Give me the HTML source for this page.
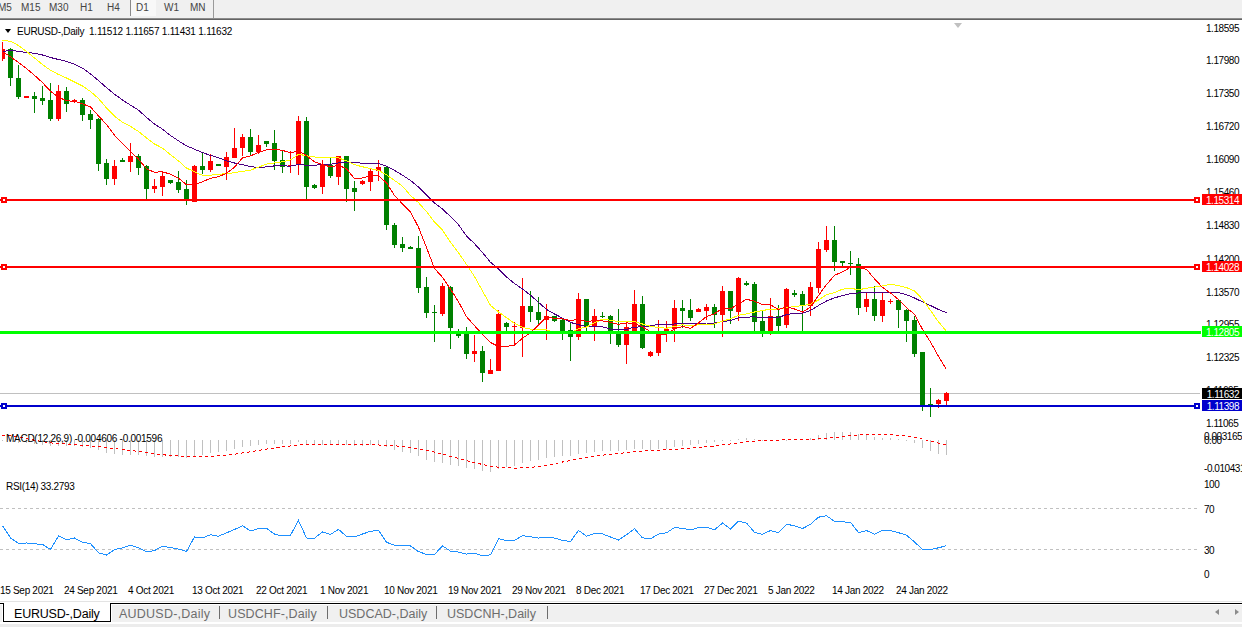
<!DOCTYPE html>
<html><head><meta charset="utf-8"><style>
html,body{margin:0;padding:0;width:1242px;height:627px;overflow:hidden;background:#fff;position:relative;font-family:"Liberation Sans",sans-serif}
.tb{position:absolute;left:0;top:0;width:1242px;height:19px;background:#f0f0f0;border-bottom:1px solid #646464;box-shadow:inset 0 -1px 0 #8c8c8c;box-sizing:content-box}
.tb span{position:absolute;top:2px;font-size:10px;color:#444}
.ax{position:absolute;left:1206px;font-size:10px;line-height:12px;color:#000;letter-spacing:-0.45px;white-space:nowrap}
.bx{position:absolute;left:1202px;width:40px;height:11px;font-size:10px;line-height:11px;padding-top:1px;overflow:hidden;letter-spacing:-0.45px;text-align:right;box-sizing:border-box;padding-right:3px;white-space:nowrap}
.dt{position:absolute;top:585px;font-size:10px;line-height:12px;color:#000;letter-spacing:-0.3px;white-space:nowrap}
.title{position:absolute;left:17px;top:26px;font-size:10px;line-height:12px;color:#000;white-space:nowrap}
.lbl{position:absolute;font-size:10px;line-height:12px;color:#000;white-space:nowrap}
.tabs{position:absolute;left:0;top:603px;width:1242px;height:24px}
.tab{position:absolute;top:607px;font-size:12.5px;line-height:15px;color:#6d6d6d;white-space:nowrap}
.sep{position:absolute;top:3px;width:1px;height:13px;background:#6d6d6d}
</style></head><body>
<div class="tb">
<span style="left:-2px">M5</span><span style="left:21px">M15</span><span style="left:49px">M30</span><span style="left:80px">H1</span><span style="left:107px">H4</span>
<div style="position:absolute;left:130px;top:0;width:25px;height:16px;background:#f8f8f8;border-left:1px solid #8a8a8a"></div>
<span style="left:136px">D1</span><span style="left:164px">W1</span><span style="left:190px">MN</span>
<div style="position:absolute;left:213px;top:0;width:1px;height:18px;background:#9a9a9a"></div>
</div>
<svg width="1242" height="627" style="position:absolute;left:0;top:0" shape-rendering="crispEdges"><defs><clipPath id="cp"><rect x="2" y="20" width="1198" height="580"/></clipPath></defs><line x1="0" y1="508.5" x2="1200" y2="508.5" stroke="#c0c0c0" stroke-width="1" stroke-dasharray="3,3"/><line x1="0" y1="549.5" x2="1200" y2="549.5" stroke="#c0c0c0" stroke-width="1" stroke-dasharray="3,3"/><rect x="0" y="393" width="1200" height="1" fill="#c0c0c0"/><g clip-path="url(#cp)"><rect x="2" y="440" width="1" height="1" fill="#c0c0c0"/><rect x="10" y="440" width="1" height="1" fill="#c0c0c0"/><rect x="18" y="440" width="1" height="3" fill="#c0c0c0"/><rect x="26" y="440" width="1" height="3" fill="#c0c0c0"/><rect x="34" y="440" width="1" height="4" fill="#c0c0c0"/><rect x="42" y="440" width="1" height="5" fill="#c0c0c0"/><rect x="50" y="440" width="1" height="6" fill="#c0c0c0"/><rect x="58" y="440" width="1" height="6" fill="#c0c0c0"/><rect x="66" y="440" width="1" height="6" fill="#c0c0c0"/><rect x="74" y="440" width="1" height="6" fill="#c0c0c0"/><rect x="82" y="440" width="1" height="7" fill="#c0c0c0"/><rect x="90" y="440" width="1" height="8" fill="#c0c0c0"/><rect x="98" y="440" width="1" height="10" fill="#c0c0c0"/><rect x="106" y="440" width="1" height="13" fill="#c0c0c0"/><rect x="114" y="440" width="1" height="14" fill="#c0c0c0"/><rect x="122" y="440" width="1" height="15" fill="#c0c0c0"/><rect x="130" y="440" width="1" height="15" fill="#c0c0c0"/><rect x="138" y="440" width="1" height="15" fill="#c0c0c0"/><rect x="146" y="440" width="1" height="16" fill="#c0c0c0"/><rect x="154" y="440" width="1" height="17" fill="#c0c0c0"/><rect x="162" y="440" width="1" height="17" fill="#c0c0c0"/><rect x="170" y="440" width="1" height="17" fill="#c0c0c0"/><rect x="178" y="440" width="1" height="17" fill="#c0c0c0"/><rect x="186" y="440" width="1" height="18" fill="#c0c0c0"/><rect x="194" y="440" width="1" height="16" fill="#c0c0c0"/><rect x="202" y="440" width="1" height="15" fill="#c0c0c0"/><rect x="210" y="440" width="1" height="13" fill="#c0c0c0"/><rect x="218" y="440" width="1" height="12" fill="#c0c0c0"/><rect x="226" y="440" width="1" height="11" fill="#c0c0c0"/><rect x="234" y="440" width="1" height="9" fill="#c0c0c0"/><rect x="242" y="440" width="1" height="7" fill="#c0c0c0"/><rect x="250" y="440" width="1" height="6" fill="#c0c0c0"/><rect x="258" y="440" width="1" height="5" fill="#c0c0c0"/><rect x="266" y="440" width="1" height="4" fill="#c0c0c0"/><rect x="274" y="440" width="1" height="4" fill="#c0c0c0"/><rect x="282" y="440" width="1" height="4" fill="#c0c0c0"/><rect x="290" y="440" width="1" height="4" fill="#c0c0c0"/><rect x="298" y="440" width="1" height="2" fill="#c0c0c0"/><rect x="306" y="440" width="1" height="4" fill="#c0c0c0"/><rect x="314" y="440" width="1" height="5" fill="#c0c0c0"/><rect x="322" y="440" width="1" height="5" fill="#c0c0c0"/><rect x="330" y="440" width="1" height="5" fill="#c0c0c0"/><rect x="338" y="440" width="1" height="4" fill="#c0c0c0"/><rect x="346" y="440" width="1" height="5" fill="#c0c0c0"/><rect x="354" y="440" width="1" height="6" fill="#c0c0c0"/><rect x="362" y="440" width="1" height="6" fill="#c0c0c0"/><rect x="370" y="440" width="1" height="5" fill="#c0c0c0"/><rect x="378" y="440" width="1" height="5" fill="#c0c0c0"/><rect x="386" y="440" width="1" height="7" fill="#c0c0c0"/><rect x="394" y="440" width="1" height="10" fill="#c0c0c0"/><rect x="402" y="440" width="1" height="12" fill="#c0c0c0"/><rect x="410" y="440" width="1" height="13" fill="#c0c0c0"/><rect x="418" y="440" width="1" height="16" fill="#c0c0c0"/><rect x="426" y="440" width="1" height="20" fill="#c0c0c0"/><rect x="434" y="440" width="1" height="22" fill="#c0c0c0"/><rect x="442" y="440" width="1" height="23" fill="#c0c0c0"/><rect x="450" y="440" width="1" height="25" fill="#c0c0c0"/><rect x="458" y="440" width="1" height="26" fill="#c0c0c0"/><rect x="466" y="440" width="1" height="28" fill="#c0c0c0"/><rect x="474" y="440" width="1" height="29" fill="#c0c0c0"/><rect x="482" y="440" width="1" height="31" fill="#c0c0c0"/><rect x="490" y="440" width="1" height="32" fill="#c0c0c0"/><rect x="498" y="440" width="1" height="29" fill="#c0c0c0"/><rect x="506" y="440" width="1" height="27" fill="#c0c0c0"/><rect x="514" y="440" width="1" height="26" fill="#c0c0c0"/><rect x="522" y="440" width="1" height="23" fill="#c0c0c0"/><rect x="530" y="440" width="1" height="21" fill="#c0c0c0"/><rect x="538" y="440" width="1" height="20" fill="#c0c0c0"/><rect x="546" y="440" width="1" height="18" fill="#c0c0c0"/><rect x="554" y="440" width="1" height="17" fill="#c0c0c0"/><rect x="562" y="440" width="1" height="16" fill="#c0c0c0"/><rect x="570" y="440" width="1" height="16" fill="#c0c0c0"/><rect x="578" y="440" width="1" height="14" fill="#c0c0c0"/><rect x="586" y="440" width="1" height="13" fill="#c0c0c0"/><rect x="594" y="440" width="1" height="12" fill="#c0c0c0"/><rect x="602" y="440" width="1" height="11" fill="#c0c0c0"/><rect x="610" y="440" width="1" height="11" fill="#c0c0c0"/><rect x="618" y="440" width="1" height="11" fill="#c0c0c0"/><rect x="626" y="440" width="1" height="10" fill="#c0c0c0"/><rect x="634" y="440" width="1" height="9" fill="#c0c0c0"/><rect x="642" y="440" width="1" height="9" fill="#c0c0c0"/><rect x="650" y="440" width="1" height="10" fill="#c0c0c0"/><rect x="658" y="440" width="1" height="9" fill="#c0c0c0"/><rect x="666" y="440" width="1" height="9" fill="#c0c0c0"/><rect x="674" y="440" width="1" height="7" fill="#c0c0c0"/><rect x="682" y="440" width="1" height="6" fill="#c0c0c0"/><rect x="690" y="440" width="1" height="5" fill="#c0c0c0"/><rect x="698" y="440" width="1" height="4" fill="#c0c0c0"/><rect x="706" y="440" width="1" height="3" fill="#c0c0c0"/><rect x="714" y="440" width="1" height="2" fill="#c0c0c0"/><rect x="722" y="440" width="1" height="1" fill="#c0c0c0"/><rect x="730" y="440" width="1" height="1" fill="#c0c0c0"/><rect x="738" y="439" width="1" height="1" fill="#c0c0c0"/><rect x="746" y="438" width="1" height="2" fill="#c0c0c0"/><rect x="754" y="439" width="1" height="1" fill="#c0c0c0"/><rect x="762" y="440" width="1" height="1" fill="#c0c0c0"/><rect x="770" y="440" width="1" height="1" fill="#c0c0c0"/><rect x="778" y="440" width="1" height="1" fill="#c0c0c0"/><rect x="786" y="440" width="1" height="1" fill="#c0c0c0"/><rect x="794" y="439" width="1" height="1" fill="#c0c0c0"/><rect x="802" y="439" width="1" height="1" fill="#c0c0c0"/><rect x="810" y="438" width="1" height="2" fill="#c0c0c0"/><rect x="818" y="435" width="1" height="5" fill="#c0c0c0"/><rect x="826" y="433" width="1" height="7" fill="#c0c0c0"/><rect x="834" y="432" width="1" height="8" fill="#c0c0c0"/><rect x="842" y="432" width="1" height="8" fill="#c0c0c0"/><rect x="850" y="432" width="1" height="8" fill="#c0c0c0"/><rect x="858" y="434" width="1" height="6" fill="#c0c0c0"/><rect x="866" y="435" width="1" height="5" fill="#c0c0c0"/><rect x="874" y="437" width="1" height="3" fill="#c0c0c0"/><rect x="882" y="438" width="1" height="2" fill="#c0c0c0"/><rect x="890" y="438" width="1" height="2" fill="#c0c0c0"/><rect x="898" y="439" width="1" height="1" fill="#c0c0c0"/><rect x="906" y="440" width="1" height="1" fill="#c0c0c0"/><rect x="914" y="440" width="1" height="3" fill="#c0c0c0"/><rect x="922" y="440" width="1" height="8" fill="#c0c0c0"/><rect x="930" y="440" width="1" height="11" fill="#c0c0c0"/><rect x="938" y="440" width="1" height="14" fill="#c0c0c0"/><rect x="946" y="440" width="1" height="15" fill="#c0c0c0"/><polyline points="2.5,435.3 10.5,436.0 18.5,437.0 26.5,438.7 34.5,440.2 42.5,441.6 50.5,442.8 58.5,443.8 66.5,444.0 74.5,444.7 82.5,445.3 90.5,445.9 98.5,446.6 106.5,447.5 114.5,448.6 122.5,449.5 130.5,450.5 138.5,451.4 146.5,452.6 154.5,453.7 162.5,454.7 170.5,455.5 178.5,456.0 186.5,456.3 194.5,456.5 202.5,456.5 210.5,456.2 218.5,455.8 226.5,455.0 234.5,454.2 242.5,453.0 250.5,451.8 258.5,450.4 266.5,449.1 274.5,447.9 282.5,446.9 290.5,446.0 298.5,445.1 306.5,444.5 314.5,444.2 322.5,444.1 330.5,444.1 338.5,444.1 346.5,444.2 354.5,444.4 362.5,444.6 370.5,444.9 378.5,445.0 386.5,445.3 394.5,445.8 402.5,446.6 410.5,447.6 418.5,448.9 426.5,450.4 434.5,452.2 442.5,454.1 450.5,456.3 458.5,458.5 466.5,460.6 474.5,462.5 482.5,464.5 490.5,466.1 498.5,467.2 506.5,467.8 514.5,468.1 522.5,467.9 530.5,467.4 538.5,466.4 546.5,465.2 554.5,463.7 562.5,462.0 570.5,460.5 578.5,459.0 586.5,457.6 594.5,456.3 602.5,455.2 610.5,454.2 618.5,453.4 626.5,452.7 634.5,451.8 642.5,451.0 650.5,450.6 658.5,450.2 666.5,449.8 674.5,449.4 682.5,448.8 690.5,448.1 698.5,447.4 706.5,446.7 714.5,446.0 722.5,445.0 730.5,444.0 738.5,442.9 746.5,441.9 754.5,441.2 762.5,440.7 770.5,440.3 778.5,440.1 786.5,439.8 794.5,439.6 802.5,439.4 810.5,439.3 818.5,439.0 826.5,438.4 834.5,437.5 842.5,436.6 850.5,435.6 858.5,434.9 866.5,434.5 874.5,434.3 882.5,434.3 890.5,434.6 898.5,435.3 906.5,436.2 914.5,437.4 922.5,439.2 930.5,441.1 938.5,443.2 946.5,445.2" fill="none" stroke="#ff0000" stroke-width="1" stroke-dasharray="3,3"/><polyline points="2.5,525.8 10.5,537.9 18.5,543.4 26.5,543.0 34.5,543.8 42.5,544.4 50.5,549.5 58.5,535.9 66.5,539.7 74.5,538.0 82.5,542.3 90.5,543.6 98.5,552.8 106.5,555.1 114.5,549.7 122.5,547.8 130.5,545.3 138.5,547.9 146.5,551.8 154.5,550.6 162.5,546.1 170.5,547.6 178.5,549.1 186.5,551.4 194.5,536.9 202.5,537.9 210.5,534.7 218.5,536.2 226.5,532.8 234.5,529.5 242.5,525.8 250.5,530.9 258.5,528.6 266.5,528.3 274.5,534.1 282.5,536.0 290.5,535.2 298.5,520.5 306.5,538.0 314.5,538.2 322.5,531.9 330.5,534.4 338.5,529.3 346.5,536.4 354.5,537.0 362.5,534.0 370.5,531.3 378.5,530.3 386.5,542.2 394.5,545.3 402.5,545.7 410.5,545.9 418.5,551.6 426.5,554.4 434.5,554.5 442.5,545.8 450.5,551.2 458.5,552.1 466.5,554.1 474.5,553.3 482.5,555.8 490.5,554.8 498.5,538.7 506.5,540.7 514.5,540.5 522.5,535.6 530.5,536.8 538.5,538.1 546.5,537.2 554.5,538.1 562.5,540.3 570.5,541.5 578.5,530.4 586.5,536.3 594.5,533.6 602.5,533.9 610.5,537.0 618.5,540.0 626.5,534.7 634.5,528.7 642.5,537.9 650.5,538.7 658.5,534.1 666.5,532.8 674.5,527.6 682.5,528.3 690.5,530.0 698.5,527.7 706.5,527.3 714.5,529.7 722.5,523.1 730.5,528.9 738.5,521.2 746.5,523.1 754.5,532.3 762.5,534.3 770.5,530.5 778.5,532.8 786.5,524.3 794.5,525.7 802.5,528.6 810.5,524.2 818.5,517.2 826.5,515.7 834.5,521.4 842.5,521.9 850.5,522.2 858.5,532.6 866.5,530.6 874.5,534.2 882.5,530.4 890.5,530.5 898.5,532.7 906.5,535.2 914.5,541.9 922.5,549.5 930.5,549.5 938.5,547.8 946.5,545.7" fill="none" stroke="#1e90ff" stroke-width="1" /><rect x="2" y="42" width="1" height="19" fill="#ff0000"/><rect x="0" y="49" width="5" height="10" fill="#ff0000"/><rect x="10" y="48" width="1" height="38" fill="#008000"/><rect x="8" y="49" width="5" height="29" fill="#008000"/><rect x="18" y="65" width="1" height="34" fill="#008000"/><rect x="16" y="78" width="5" height="19" fill="#008000"/><rect x="26" y="96" width="1" height="2" fill="#ff0000"/><rect x="24" y="96" width="5" height="2" fill="#ff0000"/><rect x="34" y="92" width="1" height="21" fill="#008000"/><rect x="32" y="96" width="5" height="3" fill="#008000"/><rect x="42" y="86" width="1" height="19" fill="#008000"/><rect x="40" y="98" width="5" height="3" fill="#008000"/><rect x="50" y="83" width="1" height="38" fill="#008000"/><rect x="48" y="100" width="5" height="19" fill="#008000"/><rect x="58" y="85" width="1" height="36" fill="#ff0000"/><rect x="56" y="91" width="5" height="28" fill="#ff0000"/><rect x="66" y="87" width="1" height="25" fill="#008000"/><rect x="64" y="91" width="5" height="13" fill="#008000"/><rect x="74" y="99" width="1" height="4" fill="#ff0000"/><rect x="72" y="100" width="5" height="2" fill="#ff0000"/><rect x="82" y="98" width="1" height="23" fill="#008000"/><rect x="80" y="100" width="5" height="15" fill="#008000"/><rect x="90" y="110" width="1" height="19" fill="#008000"/><rect x="88" y="114" width="5" height="6" fill="#008000"/><rect x="98" y="118" width="1" height="53" fill="#008000"/><rect x="96" y="119" width="5" height="45" fill="#008000"/><rect x="106" y="159" width="1" height="26" fill="#008000"/><rect x="104" y="163" width="5" height="16" fill="#008000"/><rect x="114" y="160" width="1" height="25" fill="#ff0000"/><rect x="112" y="166" width="5" height="13" fill="#ff0000"/><rect x="122" y="158" width="1" height="4" fill="#008000"/><rect x="120" y="160" width="5" height="2" fill="#008000"/><rect x="130" y="143" width="1" height="29" fill="#ff0000"/><rect x="128" y="156" width="5" height="6" fill="#ff0000"/><rect x="138" y="154" width="1" height="21" fill="#008000"/><rect x="136" y="156" width="5" height="12" fill="#008000"/><rect x="146" y="165" width="1" height="36" fill="#008000"/><rect x="144" y="166" width="5" height="23" fill="#008000"/><rect x="154" y="179" width="1" height="14" fill="#ff0000"/><rect x="152" y="186" width="5" height="3" fill="#ff0000"/><rect x="162" y="172" width="1" height="24" fill="#ff0000"/><rect x="160" y="176" width="5" height="11" fill="#ff0000"/><rect x="170" y="180" width="1" height="4" fill="#008000"/><rect x="168" y="180" width="5" height="3" fill="#008000"/><rect x="178" y="171" width="1" height="22" fill="#008000"/><rect x="176" y="182" width="5" height="8" fill="#008000"/><rect x="186" y="180" width="1" height="25" fill="#008000"/><rect x="184" y="189" width="5" height="12" fill="#008000"/><rect x="194" y="165" width="1" height="37" fill="#ff0000"/><rect x="192" y="166" width="5" height="36" fill="#ff0000"/><rect x="202" y="152" width="1" height="22" fill="#008000"/><rect x="200" y="166" width="5" height="4" fill="#008000"/><rect x="210" y="154" width="1" height="18" fill="#ff0000"/><rect x="208" y="161" width="5" height="9" fill="#ff0000"/><rect x="218" y="164" width="1" height="2" fill="#008000"/><rect x="216" y="164" width="5" height="2" fill="#008000"/><rect x="226" y="152" width="1" height="28" fill="#ff0000"/><rect x="224" y="157" width="5" height="10" fill="#ff0000"/><rect x="234" y="128" width="1" height="30" fill="#ff0000"/><rect x="232" y="148" width="5" height="10" fill="#ff0000"/><rect x="242" y="134" width="1" height="22" fill="#ff0000"/><rect x="240" y="137" width="5" height="11" fill="#ff0000"/><rect x="250" y="129" width="1" height="26" fill="#008000"/><rect x="248" y="137" width="5" height="15" fill="#008000"/><rect x="258" y="135" width="1" height="19" fill="#ff0000"/><rect x="256" y="145" width="5" height="7" fill="#ff0000"/><rect x="266" y="141" width="1" height="6" fill="#008000"/><rect x="264" y="141" width="5" height="3" fill="#008000"/><rect x="274" y="130" width="1" height="40" fill="#008000"/><rect x="272" y="143" width="5" height="18" fill="#008000"/><rect x="282" y="151" width="1" height="22" fill="#008000"/><rect x="280" y="160" width="5" height="7" fill="#008000"/><rect x="290" y="151" width="1" height="22" fill="#ff0000"/><rect x="288" y="165" width="5" height="1" fill="#ff0000"/><rect x="298" y="116" width="1" height="59" fill="#ff0000"/><rect x="296" y="121" width="5" height="43" fill="#ff0000"/><rect x="306" y="117" width="1" height="82" fill="#008000"/><rect x="304" y="121" width="5" height="66" fill="#008000"/><rect x="314" y="184" width="1" height="5" fill="#008000"/><rect x="312" y="185" width="5" height="3" fill="#008000"/><rect x="322" y="160" width="1" height="34" fill="#ff0000"/><rect x="320" y="165" width="5" height="22" fill="#ff0000"/><rect x="330" y="158" width="1" height="20" fill="#008000"/><rect x="328" y="165" width="5" height="11" fill="#008000"/><rect x="338" y="156" width="1" height="29" fill="#ff0000"/><rect x="336" y="156" width="5" height="21" fill="#ff0000"/><rect x="346" y="156" width="1" height="46" fill="#008000"/><rect x="344" y="156" width="5" height="33" fill="#008000"/><rect x="354" y="181" width="1" height="30" fill="#008000"/><rect x="352" y="188" width="5" height="4" fill="#008000"/><rect x="362" y="180" width="1" height="5" fill="#ff0000"/><rect x="360" y="181" width="5" height="3" fill="#ff0000"/><rect x="370" y="168" width="1" height="23" fill="#ff0000"/><rect x="368" y="171" width="5" height="11" fill="#ff0000"/><rect x="378" y="160" width="1" height="21" fill="#ff0000"/><rect x="376" y="167" width="5" height="4" fill="#ff0000"/><rect x="386" y="166" width="1" height="64" fill="#008000"/><rect x="384" y="167" width="5" height="58" fill="#008000"/><rect x="394" y="223" width="1" height="25" fill="#008000"/><rect x="392" y="225" width="5" height="20" fill="#008000"/><rect x="402" y="237" width="1" height="15" fill="#008000"/><rect x="400" y="244" width="5" height="4" fill="#008000"/><rect x="410" y="246" width="1" height="3" fill="#008000"/><rect x="408" y="247" width="5" height="2" fill="#008000"/><rect x="418" y="236" width="1" height="57" fill="#008000"/><rect x="416" y="248" width="5" height="40" fill="#008000"/><rect x="426" y="277" width="1" height="41" fill="#008000"/><rect x="424" y="287" width="5" height="26" fill="#008000"/><rect x="434" y="305" width="1" height="37" fill="#008000"/><rect x="432" y="312" width="5" height="1" fill="#008000"/><rect x="442" y="283" width="1" height="33" fill="#ff0000"/><rect x="440" y="286" width="5" height="28" fill="#ff0000"/><rect x="450" y="286" width="1" height="63" fill="#008000"/><rect x="448" y="287" width="5" height="41" fill="#008000"/><rect x="458" y="329" width="1" height="9" fill="#008000"/><rect x="456" y="334" width="5" height="2" fill="#008000"/><rect x="466" y="327" width="1" height="32" fill="#008000"/><rect x="464" y="332" width="5" height="22" fill="#008000"/><rect x="474" y="335" width="1" height="27" fill="#ff0000"/><rect x="472" y="351" width="5" height="3" fill="#ff0000"/><rect x="482" y="346" width="1" height="36" fill="#008000"/><rect x="480" y="351" width="5" height="22" fill="#008000"/><rect x="490" y="359" width="1" height="15" fill="#ff0000"/><rect x="488" y="370" width="5" height="4" fill="#ff0000"/><rect x="498" y="310" width="1" height="61" fill="#ff0000"/><rect x="496" y="314" width="5" height="57" fill="#ff0000"/><rect x="506" y="322" width="1" height="9" fill="#008000"/><rect x="504" y="323" width="5" height="4" fill="#008000"/><rect x="514" y="322" width="1" height="23" fill="#ff0000"/><rect x="512" y="326" width="5" height="1" fill="#ff0000"/><rect x="522" y="278" width="1" height="79" fill="#ff0000"/><rect x="520" y="306" width="5" height="22" fill="#ff0000"/><rect x="530" y="291" width="1" height="31" fill="#008000"/><rect x="528" y="306" width="5" height="6" fill="#008000"/><rect x="538" y="297" width="1" height="28" fill="#008000"/><rect x="536" y="312" width="5" height="8" fill="#008000"/><rect x="546" y="304" width="1" height="36" fill="#ff0000"/><rect x="544" y="316" width="5" height="4" fill="#ff0000"/><rect x="554" y="316" width="1" height="6" fill="#008000"/><rect x="552" y="316" width="5" height="5" fill="#008000"/><rect x="562" y="318" width="1" height="22" fill="#008000"/><rect x="560" y="320" width="5" height="11" fill="#008000"/><rect x="570" y="322" width="1" height="39" fill="#008000"/><rect x="568" y="330" width="5" height="7" fill="#008000"/><rect x="578" y="293" width="1" height="47" fill="#ff0000"/><rect x="576" y="299" width="5" height="38" fill="#ff0000"/><rect x="586" y="299" width="1" height="32" fill="#008000"/><rect x="584" y="299" width="5" height="27" fill="#008000"/><rect x="594" y="309" width="1" height="32" fill="#ff0000"/><rect x="592" y="316" width="5" height="10" fill="#ff0000"/><rect x="602" y="312" width="1" height="6" fill="#008000"/><rect x="600" y="316" width="5" height="1" fill="#008000"/><rect x="610" y="315" width="1" height="29" fill="#008000"/><rect x="608" y="316" width="5" height="15" fill="#008000"/><rect x="618" y="309" width="1" height="38" fill="#008000"/><rect x="616" y="334" width="5" height="11" fill="#008000"/><rect x="626" y="322" width="1" height="42" fill="#ff0000"/><rect x="624" y="327" width="5" height="18" fill="#ff0000"/><rect x="634" y="290" width="1" height="41" fill="#ff0000"/><rect x="632" y="304" width="5" height="27" fill="#ff0000"/><rect x="642" y="296" width="1" height="53" fill="#008000"/><rect x="640" y="304" width="5" height="44" fill="#008000"/><rect x="650" y="351" width="1" height="6" fill="#ff0000"/><rect x="648" y="352" width="5" height="4" fill="#ff0000"/><rect x="658" y="320" width="1" height="36" fill="#ff0000"/><rect x="656" y="334" width="5" height="19" fill="#ff0000"/><rect x="666" y="321" width="1" height="21" fill="#ff0000"/><rect x="664" y="329" width="5" height="5" fill="#ff0000"/><rect x="674" y="300" width="1" height="42" fill="#ff0000"/><rect x="672" y="308" width="5" height="21" fill="#ff0000"/><rect x="682" y="300" width="1" height="28" fill="#008000"/><rect x="680" y="308" width="5" height="3" fill="#008000"/><rect x="690" y="299" width="1" height="22" fill="#008000"/><rect x="688" y="310" width="5" height="8" fill="#008000"/><rect x="698" y="308" width="1" height="4" fill="#ff0000"/><rect x="696" y="309" width="5" height="3" fill="#ff0000"/><rect x="706" y="304" width="1" height="16" fill="#ff0000"/><rect x="704" y="307" width="5" height="4" fill="#ff0000"/><rect x="714" y="304" width="1" height="24" fill="#008000"/><rect x="712" y="307" width="5" height="8" fill="#008000"/><rect x="722" y="286" width="1" height="51" fill="#ff0000"/><rect x="720" y="291" width="5" height="24" fill="#ff0000"/><rect x="730" y="291" width="1" height="33" fill="#008000"/><rect x="728" y="291" width="5" height="20" fill="#008000"/><rect x="738" y="277" width="1" height="44" fill="#ff0000"/><rect x="736" y="278" width="5" height="34" fill="#ff0000"/><rect x="746" y="281" width="1" height="5" fill="#008000"/><rect x="744" y="283" width="5" height="2" fill="#008000"/><rect x="754" y="282" width="1" height="49" fill="#008000"/><rect x="752" y="284" width="5" height="38" fill="#008000"/><rect x="762" y="311" width="1" height="26" fill="#008000"/><rect x="760" y="321" width="5" height="10" fill="#008000"/><rect x="770" y="298" width="1" height="37" fill="#ff0000"/><rect x="768" y="316" width="5" height="15" fill="#ff0000"/><rect x="778" y="305" width="1" height="26" fill="#008000"/><rect x="776" y="316" width="5" height="10" fill="#008000"/><rect x="786" y="288" width="1" height="40" fill="#ff0000"/><rect x="784" y="289" width="5" height="36" fill="#ff0000"/><rect x="794" y="290" width="1" height="7" fill="#008000"/><rect x="792" y="293" width="5" height="2" fill="#008000"/><rect x="802" y="291" width="1" height="40" fill="#008000"/><rect x="800" y="294" width="5" height="12" fill="#008000"/><rect x="810" y="282" width="1" height="34" fill="#ff0000"/><rect x="808" y="287" width="5" height="19" fill="#ff0000"/><rect x="818" y="242" width="1" height="51" fill="#ff0000"/><rect x="816" y="249" width="5" height="39" fill="#ff0000"/><rect x="826" y="226" width="1" height="26" fill="#ff0000"/><rect x="824" y="240" width="5" height="10" fill="#ff0000"/><rect x="834" y="226" width="1" height="45" fill="#008000"/><rect x="832" y="240" width="5" height="22" fill="#008000"/><rect x="842" y="261" width="1" height="5" fill="#008000"/><rect x="840" y="261" width="5" height="2" fill="#008000"/><rect x="850" y="251" width="1" height="24" fill="#008000"/><rect x="848" y="263" width="5" height="1" fill="#008000"/><rect x="858" y="258" width="1" height="57" fill="#008000"/><rect x="856" y="264" width="5" height="44" fill="#008000"/><rect x="866" y="292" width="1" height="20" fill="#ff0000"/><rect x="864" y="299" width="5" height="8" fill="#ff0000"/><rect x="874" y="286" width="1" height="35" fill="#008000"/><rect x="872" y="299" width="5" height="17" fill="#008000"/><rect x="882" y="292" width="1" height="30" fill="#ff0000"/><rect x="880" y="300" width="5" height="16" fill="#ff0000"/><rect x="890" y="299" width="1" height="5" fill="#ff0000"/><rect x="888" y="301" width="5" height="1" fill="#ff0000"/><rect x="898" y="300" width="1" height="28" fill="#008000"/><rect x="896" y="300" width="5" height="10" fill="#008000"/><rect x="906" y="309" width="1" height="33" fill="#008000"/><rect x="904" y="310" width="5" height="11" fill="#008000"/><rect x="914" y="316" width="1" height="41" fill="#008000"/><rect x="912" y="320" width="5" height="34" fill="#008000"/><rect x="922" y="352" width="1" height="59" fill="#008000"/><rect x="920" y="352" width="5" height="53" fill="#008000"/><rect x="930" y="388" width="1" height="29" fill="#008000"/><rect x="928" y="404" width="5" height="1" fill="#008000"/><rect x="938" y="399" width="1" height="9" fill="#ff0000"/><rect x="936" y="400" width="5" height="4" fill="#ff0000"/><rect x="946" y="392" width="1" height="13" fill="#ff0000"/><rect x="944" y="393" width="5" height="8" fill="#ff0000"/><polyline points="2.5,51.5 10.5,50.5 18.5,51.3 26.5,52.6 34.5,53.2 42.5,55.0 50.5,57.5 58.5,59.5 66.5,61.3 74.5,64.3 82.5,68.1 90.5,73.9 98.5,80.5 106.5,87.7 114.5,94.2 122.5,100.0 130.5,105.2 138.5,110.1 146.5,117.5 154.5,124.0 162.5,129.2 170.5,135.5 178.5,140.9 186.5,145.8 194.5,149.2 202.5,152.6 210.5,155.4 218.5,157.7 226.5,160.9 234.5,163.0 242.5,164.7 250.5,166.5 258.5,167.7 266.5,166.8 274.5,165.9 282.5,165.9 290.5,166.1 298.5,164.4 306.5,165.3 314.5,165.3 322.5,164.3 330.5,164.2 338.5,163.0 346.5,162.9 354.5,162.5 362.5,163.2 370.5,163.2 378.5,163.5 386.5,166.3 394.5,170.4 402.5,175.2 410.5,180.5 418.5,187.0 426.5,195.0 434.5,203.0 442.5,209.0 450.5,216.6 458.5,224.8 466.5,235.9 474.5,243.7 482.5,252.5 490.5,262.3 498.5,268.9 506.5,277.0 514.5,283.5 522.5,289.0 530.5,295.2 538.5,302.3 546.5,309.4 554.5,314.0 562.5,318.1 570.5,322.4 578.5,324.8 586.5,326.6 594.5,326.7 602.5,326.9 610.5,329.0 618.5,329.9 626.5,329.4 634.5,327.1 642.5,326.9 650.5,325.9 658.5,324.2 666.5,324.9 674.5,324.0 682.5,323.3 690.5,323.8 698.5,323.6 706.5,323.0 714.5,323.0 722.5,321.6 730.5,320.6 738.5,317.8 746.5,317.1 754.5,316.9 762.5,317.6 770.5,317.6 778.5,317.3 786.5,314.7 794.5,313.2 802.5,313.3 810.5,310.4 818.5,305.5 826.5,301.0 834.5,297.8 842.5,295.7 850.5,293.5 858.5,293.0 866.5,292.5 874.5,293.0 882.5,292.2 890.5,292.7 898.5,292.7 906.5,294.7 914.5,298.0 922.5,301.9 930.5,305.5 938.5,309.5 946.5,312.7" fill="none" stroke="#4b0082" stroke-width="1" /><polyline points="2.5,40.2 10.5,41.3 18.5,45.5 26.5,51.5 34.5,58.0 42.5,64.5 50.5,70.3 58.5,74.5 66.5,78.0 74.5,82.0 82.5,86.0 90.5,91.5 98.5,98.6 106.5,107.9 114.5,116.2 122.5,122.2 130.5,126.4 138.5,131.5 146.5,137.9 154.5,144.0 162.5,148.1 170.5,154.7 178.5,160.9 186.5,168.1 194.5,171.8 202.5,175.4 210.5,175.2 218.5,174.3 226.5,173.7 234.5,172.7 242.5,171.3 250.5,170.2 258.5,167.1 266.5,164.1 274.5,163.0 282.5,161.8 290.5,160.0 298.5,154.3 306.5,155.7 314.5,157.0 322.5,157.3 330.5,158.0 338.5,157.9 346.5,160.8 354.5,164.7 362.5,166.8 370.5,168.6 378.5,170.3 386.5,174.8 394.5,180.4 402.5,186.3 410.5,195.4 418.5,202.7 426.5,211.6 434.5,222.2 442.5,230.1 450.5,242.3 458.5,252.8 466.5,264.4 474.5,276.5 482.5,291.0 490.5,305.5 498.5,311.9 506.5,317.7 514.5,323.3 522.5,327.4 530.5,329.2 538.5,329.7 546.5,329.9 554.5,332.4 562.5,332.6 570.5,332.7 578.5,328.8 586.5,327.0 594.5,322.9 602.5,319.1 610.5,320.3 618.5,321.6 626.5,321.7 634.5,321.5 642.5,324.0 650.5,326.3 658.5,327.6 666.5,328.2 674.5,326.6 682.5,324.7 690.5,326.0 698.5,324.8 706.5,324.2 714.5,324.0 722.5,321.2 730.5,318.8 738.5,315.3 746.5,313.9 754.5,312.0 762.5,310.5 770.5,309.2 778.5,309.0 786.5,307.6 794.5,306.5 802.5,305.7 810.5,304.1 818.5,300.0 826.5,294.6 834.5,292.6 842.5,289.2 850.5,288.2 858.5,289.8 866.5,288.2 874.5,287.1 882.5,286.0 890.5,284.2 898.5,285.7 906.5,287.6 914.5,290.9 922.5,299.3 930.5,310.5 938.5,321.9 946.5,331.3" fill="none" stroke="#ffff00" stroke-width="1" /><polyline points="2.5,51.5 10.5,56.8 18.5,62.5 26.5,68.5 34.5,75.3 42.5,82.6 50.5,91.3 58.5,97.2 66.5,100.8 74.5,101.3 82.5,103.9 90.5,106.9 98.5,115.9 106.5,124.5 114.5,135.2 122.5,143.5 130.5,151.5 138.5,159.1 146.5,168.9 154.5,172.2 162.5,171.8 170.5,174.2 178.5,178.2 186.5,184.7 194.5,184.5 202.5,181.8 210.5,178.2 218.5,176.8 226.5,173.2 234.5,167.2 242.5,157.9 250.5,155.9 258.5,152.3 266.5,149.9 274.5,149.1 282.5,150.4 290.5,152.9 298.5,150.6 306.5,155.6 314.5,161.7 322.5,164.7 330.5,166.8 338.5,165.3 346.5,168.7 354.5,178.8 362.5,178.0 370.5,175.6 378.5,175.9 386.5,182.8 394.5,195.5 402.5,203.9 410.5,212.0 418.5,227.3 426.5,247.6 434.5,268.5 442.5,277.3 450.5,289.1 458.5,301.7 466.5,316.7 474.5,325.7 482.5,334.4 490.5,342.5 498.5,346.5 506.5,346.4 514.5,345.0 522.5,338.2 530.5,332.7 538.5,325.0 546.5,317.3 554.5,318.3 562.5,318.9 570.5,320.4 578.5,319.4 586.5,321.3 594.5,320.8 602.5,320.9 610.5,322.3 618.5,324.3 626.5,322.9 634.5,323.6 642.5,326.7 650.5,331.8 658.5,334.3 666.5,334.1 674.5,328.8 682.5,326.5 690.5,328.4 698.5,322.9 706.5,316.5 714.5,313.8 722.5,308.3 730.5,308.7 738.5,304.0 746.5,299.3 754.5,301.2 762.5,304.6 770.5,304.7 778.5,309.7 786.5,306.6 794.5,309.0 802.5,312.0 810.5,307.1 818.5,295.4 826.5,284.6 834.5,275.4 842.5,271.7 850.5,267.4 858.5,267.6 866.5,269.3 874.5,278.9 882.5,287.4 890.5,293.0 898.5,299.6 906.5,307.7 914.5,314.3 922.5,329.4 930.5,342.1 938.5,356.3 946.5,369.5" fill="none" stroke="#ff0000" stroke-width="1" /></g><rect x="0" y="199" width="1200" height="2" fill="#ff0000"/><rect x="1" y="197" width="6" height="6" fill="#ff0000"/><rect x="3" y="199" width="2" height="2" fill="#fff"/><rect x="1194" y="197" width="6" height="6" fill="#ff0000"/><rect x="1196" y="199" width="2" height="2" fill="#fff"/><rect x="0" y="266" width="1200" height="2" fill="#ff0000"/><rect x="1" y="264" width="6" height="6" fill="#ff0000"/><rect x="3" y="266" width="2" height="2" fill="#fff"/><rect x="1194" y="264" width="6" height="6" fill="#ff0000"/><rect x="1196" y="266" width="2" height="2" fill="#fff"/><rect x="0" y="331" width="1201" height="3" fill="#00ff00"/><rect x="0" y="405" width="1200" height="2" fill="#0000cc"/><rect x="1" y="403" width="6" height="6" fill="#0000cc"/><rect x="3" y="405" width="2" height="2" fill="#fff"/><rect x="1194" y="403" width="6" height="6" fill="#0000cc"/><rect x="1196" y="405" width="2" height="2" fill="#fff"/></svg>
<div style="position:absolute;left:5px;top:29px;width:0;height:0;border-left:3.5px solid transparent;border-right:3.5px solid transparent;border-top:4px solid #000"></div>
<div class="title" style="letter-spacing:-0.25px">EURUSD-,Daily</div><div class="title" style="left:89px;letter-spacing:-0.22px">1.11512 1.11657 1.11431 1.11632</div>
<div style="position:absolute;left:954px;top:23px;width:0;height:0;border-left:4.5px solid transparent;border-right:4.5px solid transparent;border-top:5px solid #c0c0c0"></div>
<div class="lbl" style="left:6px;top:433px;letter-spacing:-0.27px">MACD(12,26,9) -0.004606 -0.001596</div>
<div class="lbl" style="left:6px;top:481px;letter-spacing:-0.33px">RSI(14) 33.2793</div>
<div class="ax" style="top:22.5px">1.18595</div><div class="ax" style="top:54.8px">1.17980</div><div class="ax" style="top:87.9px">1.17350</div><div class="ax" style="top:121.1px">1.16720</div><div class="ax" style="top:154.2px">1.16090</div><div class="ax" style="top:187.3px">1.15460</div><div class="ax" style="top:220.4px">1.14830</div><div class="ax" style="top:253.5px">1.14200</div><div class="ax" style="top:286.6px">1.13570</div><div class="ax" style="top:319.0px">1.12955</div><div class="ax" style="top:352.1px">1.12325</div><div class="ax" style="top:385.2px">1.11695</div><div class="ax" style="top:418.3px">1.11065</div><div class="bx" style="top:194px;background:#ff0000;color:#fff">1.15314</div><div class="bx" style="top:261px;background:#ff0000;color:#fff">1.14028</div><div class="bx" style="top:326px;background:#00ff00;color:#fff">1.12805</div><div class="bx" style="top:388px;background:#000000;color:#fff">1.11632</div><div class="bx" style="top:400px;background:#0000cc;color:#fff">1.11398</div><div class="ax" style="top:431px;left:1204px">0.003165</div><div class="ax" style="top:434.5px;left:1204px">0.00</div><div class="ax" style="top:463px;left:1204px">-0.010431</div><div class="ax" style="top:479px;left:1204px">100</div><div class="ax" style="top:504px;left:1204px">70</div><div class="ax" style="top:545px;left:1204px">30</div><div class="ax" style="top:569px;left:1204px">0</div>
<div class="dt" style="left:0px">15 Sep 2021</div><div class="dt" style="left:64px">24 Sep 2021</div><div class="dt" style="left:128px">4 Oct 2021</div><div class="dt" style="left:192px">13 Oct 2021</div><div class="dt" style="left:256px">22 Oct 2021</div><div class="dt" style="left:320px">1 Nov 2021</div><div class="dt" style="left:384px">10 Nov 2021</div><div class="dt" style="left:448px">19 Nov 2021</div><div class="dt" style="left:512px">29 Nov 2021</div><div class="dt" style="left:576px">8 Dec 2021</div><div class="dt" style="left:640px">17 Dec 2021</div><div class="dt" style="left:704px">27 Dec 2021</div><div class="dt" style="left:768px">5 Jan 2022</div><div class="dt" style="left:832px">14 Jan 2022</div><div class="dt" style="left:896px">24 Jan 2022</div>
<div style="position:absolute;left:0;top:601px;width:1242px;height:1px;background:#e3e3e3"></div>
<div style="position:absolute;left:0;top:603px;width:1242px;height:1px;background:#000"></div>
<div style="position:absolute;left:0;top:604px;width:1242px;height:1px;background:#fff"></div>
<div style="position:absolute;left:0;top:605px;width:1242px;height:17px;background:#f0f0f0"></div>
<div style="position:absolute;left:0;top:623px;width:1242px;height:1px;background:#fff"></div>
<div style="position:absolute;left:0;top:624px;width:1242px;height:3px;background:#ececec"></div>
<div style="position:absolute;left:2px;top:604px;width:1px;height:18px;background:#fff"></div>
<div style="position:absolute;left:111px;top:604px;width:1px;height:18px;background:#fff"></div>
<div style="position:absolute;left:3px;top:603px;width:106px;height:18px;background:#fff;border:1px solid #000;border-top:none"></div>
<div class="tab" style="left:14px;color:#000;letter-spacing:-0.2px">EURUSD-,Daily</div>
<div class="tab" style="left:119px;letter-spacing:0.23px">AUDUSD-,Daily</div>
<div class="sep" style="left:219px;top:606px"></div>
<div class="tab" style="left:228px;letter-spacing:0.1px">USDCHF-,Daily</div>
<div class="sep" style="left:327px;top:606px"></div>
<div class="tab" style="left:339px">USDCAD-,Daily</div>
<div class="sep" style="left:436px;top:606px"></div>
<div class="tab" style="left:447px">USDCNH-,Daily</div>
<div class="sep" style="left:547px;top:606px"></div>
<div style="position:absolute;left:1215px;top:609px;width:0;height:0;border-top:3px solid transparent;border-bottom:3px solid transparent;border-right:4px solid #8c8c8c"></div>
<div style="position:absolute;left:1235px;top:609px;width:0;height:0;border-top:3px solid transparent;border-bottom:3px solid transparent;border-left:4px solid #8c8c8c"></div>
</body></html>
